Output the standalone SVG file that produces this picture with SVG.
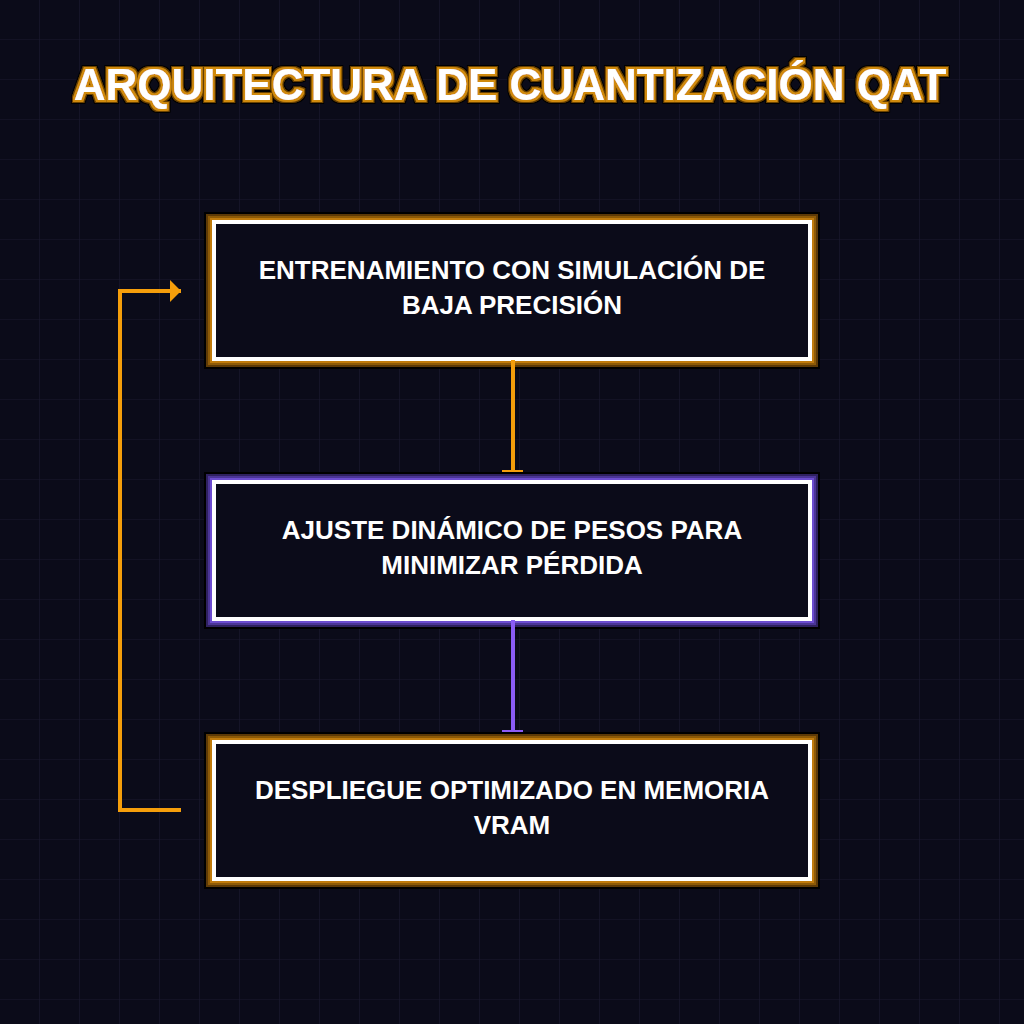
<svg xmlns="http://www.w3.org/2000/svg" width="1024" height="1024" viewBox="0 0 1024 1024">
<defs>
<pattern id="grid" width="40" height="40" patternUnits="userSpaceOnUse">
<path d="M40 0V40M0 40H40" fill="none" stroke="#1b1a2f" stroke-width="1.2"/>
</pattern>
<filter id="titleGlow" x="-5%" y="-30%" width="110%" height="160%">
<feMorphology in="SourceAlpha" operator="dilate" radius="4" result="d4"/>
<feFlood flood-color="#000000"/><feComposite in2="d4" operator="in" result="c4"/>
<feMorphology in="SourceAlpha" operator="dilate" radius="3" result="d3"/>
<feFlood flood-color="#6b4206"/><feComposite in2="d3" operator="in" result="c3"/>
<feMorphology in="SourceAlpha" operator="dilate" radius="2" result="d2"/>
<feFlood flood-color="#d08a10"/><feComposite in2="d2" operator="in" result="c2"/>
<feMerge><feMergeNode in="c4"/><feMergeNode in="c3"/><feMergeNode in="c2"/><feMergeNode in="SourceGraphic"/></feMerge>
</filter>
<marker id="barO" markerUnits="userSpaceOnUse" markerWidth="24" markerHeight="6" refX="12" refY="3" viewBox="0 0 24 6">
<rect x="1" y="2" width="21" height="2" fill="#f59e0b"/>
</marker>
<marker id="barP" markerUnits="userSpaceOnUse" markerWidth="24" markerHeight="6" refX="12" refY="3" viewBox="0 0 24 6">
<rect x="1" y="2" width="21" height="2" fill="#8b5cf6"/>
</marker>
<marker id="arrO" markerUnits="userSpaceOnUse" markerWidth="12" markerHeight="22" refX="11" refY="11" orient="auto" viewBox="0 0 12 22">
<path d="M0 0L11 11L0 22Z" fill="#f59e0b"/>
</marker>
</defs>
<style>
.txt{font-family:"Liberation Sans",Arial,sans-serif;font-weight:bold;fill:#ffffff;text-anchor:middle}
.nt{font-size:26px}
.title{font-size:44px}
.l0{fill:none;stroke:#000000;stroke-width:20}
.o1{fill:none;stroke:#5e3a06;stroke-width:16}
.o2{fill:none;stroke:#8d5a07;stroke-width:12}
.o3{fill:none;stroke:#c07b0c;stroke-width:8}
.p1{fill:none;stroke:#2f2160;stroke-width:16}
.p2{fill:none;stroke:#4b3596;stroke-width:12}
.p3{fill:none;stroke:#6c4ccf;stroke-width:8}
.wb{fill:#0b0b19;stroke:#ffffff;stroke-width:4}
</style>
<rect width="1024" height="1024" fill="#0b0b19"/>
<rect width="1024" height="1024" fill="url(#grid)"/>
<text class="txt title" x="510" y="100" filter="url(#titleGlow)">ARQUITECTURA DE CUANTIZACIÓN QAT</text>
<g id="node1">
<rect class="l0" x="214" y="222" width="596" height="137"/>
<rect class="o1" x="214" y="222" width="596" height="137"/>
<rect class="o2" x="214" y="222" width="596" height="137"/>
<rect class="o3" x="214" y="222" width="596" height="137"/>
<rect class="wb" x="214" y="222" width="596" height="137"/>
<text class="txt nt" x="512" y="279">ENTRENAMIENTO CON SIMULACIÓN DE</text>
<text class="txt nt" x="512" y="314">BAJA PRECISIÓN</text>
</g>
<g id="node2">
<rect class="l0" x="214" y="482" width="596" height="137"/>
<rect class="p1" x="214" y="482" width="596" height="137"/>
<rect class="p2" x="214" y="482" width="596" height="137"/>
<rect class="p3" x="214" y="482" width="596" height="137"/>
<rect class="wb" x="214" y="482" width="596" height="137"/>
<text class="txt nt" x="512" y="539">AJUSTE DINÁMICO DE PESOS PARA</text>
<text class="txt nt" x="512" y="574">MINIMIZAR PÉRDIDA</text>
</g>
<g id="node3">
<rect class="l0" x="214" y="742" width="596" height="137"/>
<rect class="o1" x="214" y="742" width="596" height="137"/>
<rect class="o2" x="214" y="742" width="596" height="137"/>
<rect class="o3" x="214" y="742" width="596" height="137"/>
<rect class="wb" x="214" y="742" width="596" height="137"/>
<text class="txt nt" x="512" y="799">DESPLIEGUE OPTIMIZADO EN MEMORIA</text>
<text class="txt nt" x="512" y="834">VRAM</text>
</g>
<g id="connectors" fill="none" stroke-width="4">
<path d="M513 360V471" stroke="#f59e0b" marker-end="url(#barO)"/>
<path d="M513 620V731" stroke="#8b5cf6" marker-end="url(#barP)"/>
<path d="M181 810H120V291H181" stroke="#f59e0b" marker-end="url(#arrO)"/>
</g>
</svg>
